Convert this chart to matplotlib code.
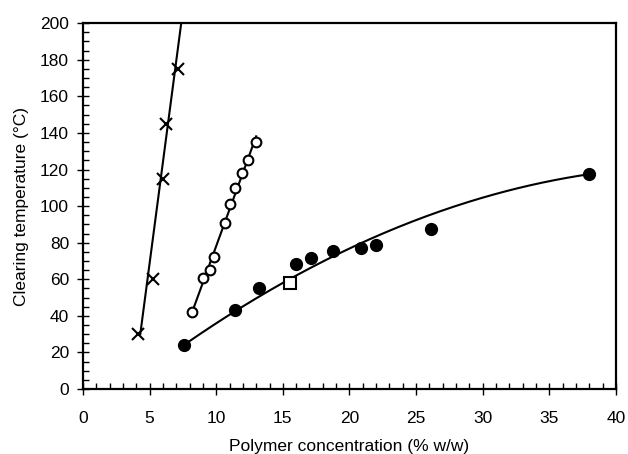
import matplotlib
matplotlib.use('Agg')
import matplotlib.pyplot as plt
import numpy as np
from matplotlib.ticker import MultipleLocator

# crosses
x_cross = [4.15, 5.25, 6.0, 6.2, 7.1]
y_cross = [30, 60, 115, 145, 175]

# open circles
x_open = [8.2, 9.0, 9.5, 9.85, 10.65, 11.0, 11.4, 11.95, 12.35, 13.0]
y_open = [42, 60.5, 65, 72, 91, 101, 110, 118, 125, 135]

# filled circles
x_fill = [7.6, 11.4, 13.2, 16.0, 17.1, 18.8, 20.9, 22.0, 26.1, 37.95]
y_fill = [24, 43, 55, 68.5, 71.5, 75.5, 77, 78.5, 87.5, 117.5]

# open square
x_sq = [15.5]
y_sq = [58]

plt.rcParams['font.family'] = ['Liberation Sans', 'DejaVu Sans']

fig, ax = plt.subplots(figsize=(6.28, 4.54), dpi=100)
fig.subplots_adjust(left=0.132, right=0.981, top=0.949, bottom=0.143)

# linear fit to crosses, extended to top of axis
p = np.polyfit(y_cross, x_cross, 1)
yy = np.array([min(y_cross), 200])
ax.plot(np.polyval(p, yy) - 0.08, yy, color='black', lw=1.5, zorder=2)

# open circles joined by a straight fit
p = np.polyfit(x_open, y_open, 1)
xx = np.array([x_open[0], x_open[-1]])
ax.plot(xx, np.polyval(p, xx), color='black', lw=1.5, zorder=2)

# quadratic fit for filled circles, ends pinned harder
w = np.ones(len(x_fill))
w[0] = w[-1] = 6
p = np.polyfit(x_fill, y_fill, 2, w=w)
xx = np.linspace(x_fill[0], x_fill[-1], 200)
ax.plot(xx, np.polyval(p, xx), color='black', lw=1.5, zorder=2)

ax.plot(x_cross, y_cross, 'x', color='black', ms=9, mew=1.5, zorder=3)
ax.plot(x_open, y_open, 'o', mfc='white', mec='black', ms=7, mew=1.5, zorder=3)
ax.plot(x_fill, y_fill, 'o', color='black', ms=8.5, zorder=3)
ax.plot(x_sq, y_sq, 's', mfc='white', mec='black', ms=8, mew=1.5, zorder=3)

ax.set_xlim(0, 40)
ax.set_ylim(0, 200)
ax.xaxis.set_major_locator(MultipleLocator(5))
ax.xaxis.set_minor_locator(MultipleLocator(1))
ax.yaxis.set_major_locator(MultipleLocator(20))
ax.yaxis.set_minor_locator(MultipleLocator(5))
ax.tick_params(which='major', direction='inout', length=8, width=1, labelsize=12.5, pad=12)
ax.tick_params(which='minor', direction='in', length=4, width=1)
ax.tick_params(axis='y', pad=6)
for s in ax.spines.values():
    s.set_linewidth(1.6)

ax.set_xlabel('Polymer concentration (% w/w)', fontsize=12.5, labelpad=9)
ax.set_ylabel('Clearing temperature (°C)', fontsize=12.5, labelpad=8)

fig.savefig('out.png', dpi=100)
